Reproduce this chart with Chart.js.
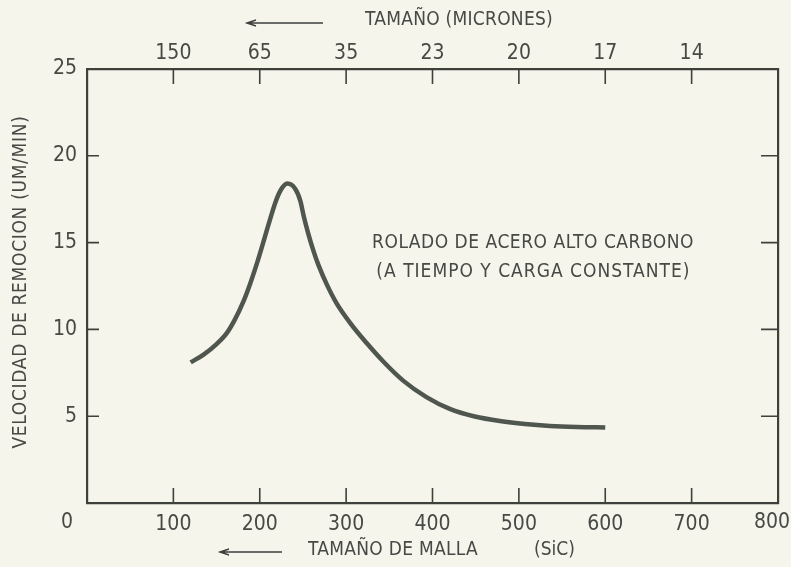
<!DOCTYPE html>
<html>
<head>
<meta charset="UTF-8">
<title>Velocidad de remocion vs tamano de malla</title>
<script src="https://cdn.jsdelivr.net/npm/chart.js@4.4.1/dist/chart.umd.min.js"></script>
<style>
html, body { margin: 0; padding: 0; background: #f6f5ec; }
#chart { display: block; }
</style>
</head>
<body>
<canvas id="chart" width="791" height="567"></canvas>
<script>
// data
var meshSize = [120, 135, 150, 162, 171, 181, 189, 197, 204, 212, 218, 224, 232, 241, 247, 251, 256, 262, 268, 278, 289, 305, 324, 343, 366, 393, 420, 449, 478, 507, 536, 567, 600];
var removalRate = [8.1, 8.55, 9.15, 9.8, 10.55, 11.6, 12.65, 13.85, 15.0, 16.35, 17.3, 18.0, 18.4, 18.1, 17.4, 16.5, 15.55, 14.55, 13.7, 12.55, 11.5, 10.35, 9.2, 8.15, 7.05, 6.1, 5.42, 4.98, 4.72, 4.55, 4.44, 4.38, 4.35];

var meshTicks = [0, 100, 200, 300, 400, 500, 600, 700, 800];
var micronLabels = ["", "150", "65", "35", "23", "20", "17", "14", ""];
var rateTicks = [0, 5, 10, 15, 20, 25];

var FONT = "'DejaVu Sans Condensed', 'DejaVu Sans', sans-serif";
var INK = "#3d403b";
var TEXT = "#464944";
var PAPER = "#f6f5ec";

var points = [];
for (var i = 0; i < meshSize.length; i++) {
	points.push({x: meshSize[i], y: removalRate[i]});
}

// draw text stretched to a given width (plotter lettering is wide-spaced)
var fitText = function(ctx, text, x, y, width) {
	ctx.letterSpacing = "0px";
	var w = ctx.measureText(text).width;
	var sp = (width - w) / text.length;
	ctx.letterSpacing = sp + "px";
	ctx.fillText(text, x, y);
	ctx.letterSpacing = "0px";
};

var arrow = function(ctx, x1, x2, y) {
	ctx.beginPath();
	ctx.moveTo(x1, y);
	ctx.lineTo(x2, y);
	ctx.moveTo(x1 + 9, y - 3);
	ctx.lineTo(x1, y);
	ctx.lineTo(x1 + 9, y + 3);
	ctx.stroke();
};

var paperPlugin = {
	id: "paper",
	beforeDraw: function(chart) {
		var ctx = chart.ctx;
		ctx.save();
		ctx.fillStyle = PAPER;
		ctx.fillRect(0, 0, chart.width, chart.height);
		ctx.restore();
	},
	afterDraw: function(chart) {
		var ctx = chart.ctx;
		var a = chart.chartArea;
		var sx = chart.scales.x, sy = chart.scales.y;
		var len = 15;
		ctx.save();
		ctx.strokeStyle = INK;
		ctx.lineWidth = 1.6;
		ctx.beginPath();
		// inward tick marks on all four sides
		meshTicks.forEach(function(v) {
			if (v <= sx.min || v >= sx.max) return;
			var px = sx.getPixelForValue(v);
			ctx.moveTo(px, a.bottom); ctx.lineTo(px, a.bottom - len);
			ctx.moveTo(px, a.top); ctx.lineTo(px, a.top + len);
		});
		rateTicks.forEach(function(v) {
			if (v <= sy.min || v >= sy.max) return;
			var py = sy.getPixelForValue(v);
			ctx.moveTo(a.left, py); ctx.lineTo(a.left + len - 3, py);
			ctx.moveTo(a.right, py); ctx.lineTo(a.right - len - 2, py);
		});
		ctx.stroke();

		ctx.fillStyle = TEXT;
		ctx.textBaseline = "middle";

		// end labels of the mesh axis sit a little inside/outside the frame
		ctx.font = "21px " + FONT;
		ctx.textAlign = "center";
		ctx.fillText("0", sx.getPixelForValue(0) - 20, a.bottom + 20);
		ctx.fillText("800", sx.getPixelForValue(800) - 6, a.bottom + 20);

		// note inside the plot
		ctx.font = "19px " + FONT;
		ctx.textAlign = "left";
		fitText(ctx, "ROLADO DE ACERO ALTO CARBONO", sx.getPixelForValue(330), sy.getPixelForValue(15.0), 322);
		fitText(ctx, "(A TIEMPO Y CARGA CONSTANTE)", sx.getPixelForValue(335), sy.getPixelForValue(13.3), 314);

		// axis titles
		fitText(ctx, "TAMAÑO (MICRONES)", 365, 20, 188);
		fitText(ctx, "TAMAÑO DE MALLA", 308, 550, 170);
		ctx.fillText("(SiC)", 534, 550);
		ctx.lineWidth = 1.5;
		arrow(ctx, 247, 323, 23);
		arrow(ctx, 220, 282, 552);

		ctx.translate(21, 282);
		ctx.rotate(-Math.PI / 2);
		ctx.textAlign = "center";
		ctx.letterSpacing = "0px";
		var t = "VELOCIDAD DE REMOCION (UM/MIN)";
		var w = ctx.measureText(t).width;
		ctx.letterSpacing = ((333 - w) / t.length) + "px";
		ctx.fillText(t, 0, 0);
		ctx.restore();
	}
};

var tickFont = {family: FONT, size: 21};

var noPadX = function(s, h) {
	s.height = h;
	s.paddingLeft = 0;
	s.paddingRight = 0;
};
var noPadY = function(s, w) {
	s.width = w;
	s.paddingTop = 0;
	s.paddingBottom = 0;
};

var ctx = document.getElementById("chart");
var myChart = new Chart(ctx, {
	type: "line",
	data: {
		datasets: [{
			data: points,
			borderColor: "#4e564e",
			borderWidth: 4.5,
			pointRadius: 0,
			cubicInterpolationMode: "monotone",
			fill: false
		}]
	},
	options: {
		responsive: false,
		animation: false,
		devicePixelRatio: 1,
		layout: {padding: 0},
		plugins: {
			legend: {display: false},
			tooltip: {enabled: false}
		},
		scales: {
			x: {
				type: "linear",
				position: "bottom",
				min: 0,
				max: 800,
				afterBuildTicks: function(s) { s.ticks = meshTicks.map(function(v) { return {value: v}; }); },
				afterFit: function(s) { noPadX(s, 64); },
				grid: {display: false, drawTicks: false},
				border: {display: true, color: INK, width: 2.2},
				ticks: {
					color: TEXT,
					font: tickFont,
					padding: 9,
					maxRotation: 0,
					callback: function(v) { return (v === 0 || v === 800) ? "" : String(v); }
				}
			},
			x2: {
				type: "linear",
				position: "top",
				min: 0,
				max: 800,
				afterBuildTicks: function(s) { s.ticks = meshTicks.map(function(v) { return {value: v}; }); },
				afterFit: function(s) { noPadX(s, 69); },
				grid: {display: false, drawTicks: false},
				border: {display: true, color: INK, width: 2.2},
				ticks: {
					color: TEXT,
					font: tickFont,
					padding: 3,
					maxRotation: 0,
					callback: function(v) { return micronLabels[meshTicks.indexOf(v)] || ""; }
				}
			},
			y: {
				type: "linear",
				position: "left",
				min: 0,
				max: 25,
				afterBuildTicks: function(s) { s.ticks = rateTicks.map(function(v) { return {value: v}; }); },
				afterFit: function(s) { noPadY(s, 87); },
				grid: {display: false, drawTicks: false},
				border: {display: true, color: INK, width: 2.2},
				ticks: {
					color: TEXT,
					font: tickFont,
					padding: 10,
					callback: function(v) { return v === 0 ? "" : String(v); }
				}
			},
			y2: {
				type: "linear",
				position: "right",
				min: 0,
				max: 25,
				afterFit: function(s) { noPadY(s, 13); },
				grid: {display: false, drawTicks: false},
				border: {display: true, color: INK, width: 2.2},
				ticks: {display: false}
			}
		}
	},
	plugins: [paperPlugin]
});
</script>
</body>
</html>
